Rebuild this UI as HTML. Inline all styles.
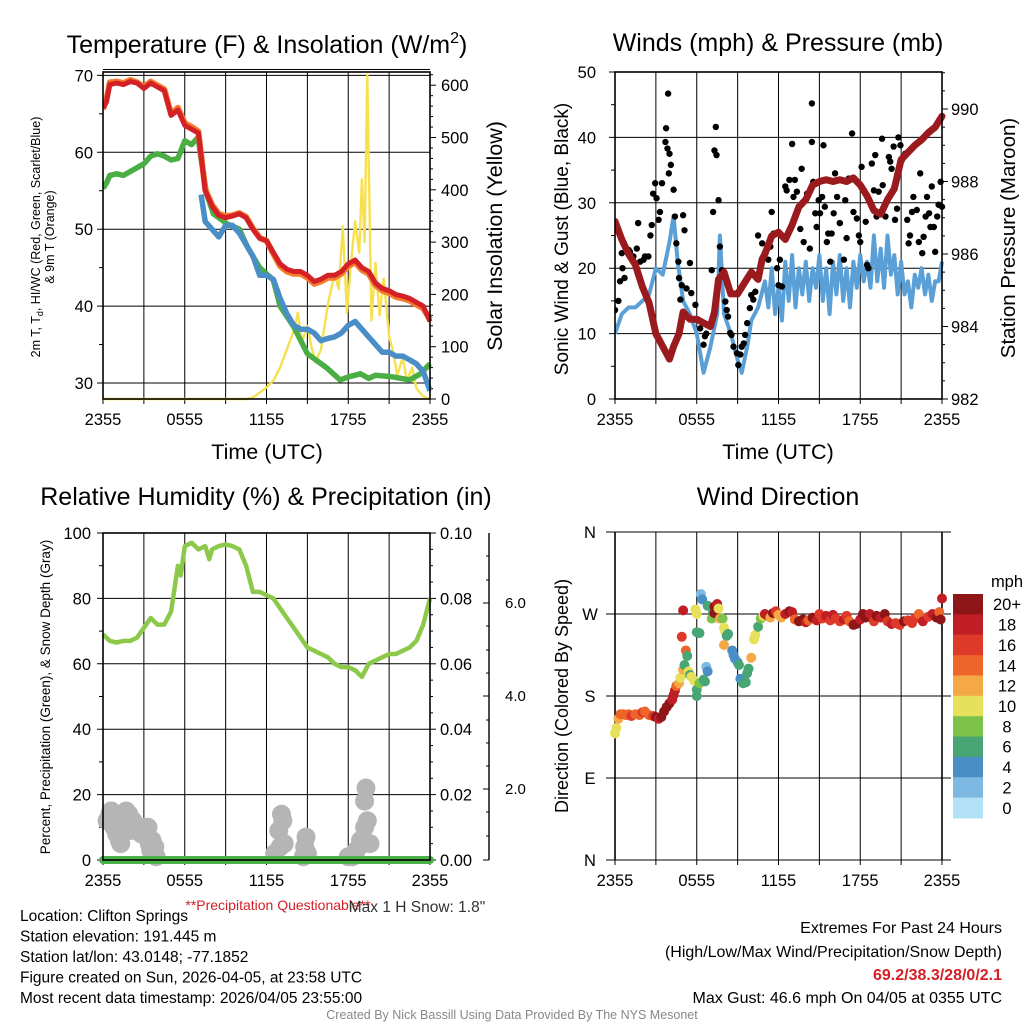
<!DOCTYPE html>
<html><head><meta charset="utf-8"><style>
body{margin:0;background:#fff}
svg{display:block;font-family:"Liberation Sans",sans-serif}
</style></head><body>
<svg id="s" width="1024" height="1024" viewBox="0 0 1024 1024"></svg>
<script>
// ===== Data (hours since 2355 UTC) =====
const tempHours=[0,0.25,0.5,1,1.5,2,2.5,3,3.5,4,4.5,5,5.5,6,6.5,7,7.5,8,8.5,9,9.5,10,10.5,11,11.5,12,12.5,13,13.5,14,14.5,15,15.5,16,16.5,17,17.5,18,18.5,19,19.5,20,20.5,21,21.5,22,22.5,23,23.5,24];
const temp2m=[65.8,66.5,68.8,69,68.8,69.2,69,68.3,69,68.5,68,64.8,65.5,63.5,63,62.5,55,53,51.8,51.5,51.7,52,51.5,50,48.8,48.5,47,45.5,44.8,44.5,44.5,44,43.2,43.5,44,44,44.5,45.5,46,45,44.5,43,42.3,42,41.5,41.3,41,40.5,40,38];
const temp9m=[65.6,66.8,69.1,69.2,69,69.4,69.1,68.5,69.2,68.7,68.2,65,65.8,63.8,63.3,62.7,55.2,53.2,52,51.7,51.8,52.1,51.6,50.1,48.9,48.5,46.8,45.2,44.5,44.2,44.2,43.7,42.9,43.2,43.7,43.7,44.2,45.2,45.7,44.7,44.2,42.7,42,41.7,41.2,41,40.7,40.2,39.7,38.3];
const dewHours=[0,0.25,0.5,1,1.5,2,2.5,3,3.5,4,4.5,5,5.5,6,6.5,7,7.1,7.6,8.1,9.1,10,10.6,11.5,12.5,13,14,15,16.4,17.4,18,18.9,19.5,20,21.3,22.5,23.3,24];
const dewpoint=[55.3,56,57,57.2,57,57.5,58,58.5,59.5,59.8,59.5,59,59.2,61.5,61,62,60.3,54.6,52,50.7,50,47.7,45,43.4,40,37.3,33.8,32,30.4,30.8,31.2,30.6,31,30.8,30.4,31.2,32.5];
const wcHours=[7.2,7.5,8,8.5,9,9.5,10,10.5,11,11.5,12,12.5,13,13.5,14,14.5,15,15.5,16,16.5,17,17.5,18,18.5,19,19.5,20,20.5,21,21.5,22,22.5,23,23.5,24];
const windChill=[54.5,51,50,49,50.5,50.5,49.5,48,46.5,44,44,43.5,41,39,37.5,37,37,36.5,35.5,35.8,36,36.5,37.5,38,37,36,35,34,34,33.5,33.5,33,32.5,31.5,29];
const solarHours=[0,10.5,11,11.5,12,12.5,13,13.5,14,14.3,14.6,15,15.3,15.6,16,16.5,17,17.3,17.6,17.9,18.2,18.5,18.8,19,19.2,19.4,19.7,20,20.3,20.6,21,21.3,21.6,22,22.3,22.7,23,23.5,24];
const solar=[0,0,3,12,22,35,60,95,130,165,110,140,100,70,95,180,240,210,330,165,260,340,280,420,300,620,150,260,160,230,120,90,45,80,35,60,20,5,0];

const windHours=[0,0.5,1,1.5,2,2.5,3,3.5,4,4.3,4.6,5,5.5,6,6.5,7,7.5,7.7,8,8.5,9,9.3,9.7,10,10.5,11,11.25,11.5,11.75,12,12.25,12.5,12.75,13,13.25,13.5,13.75,14,14.25,14.5,14.75,15,15.25,15.5,15.75,16,16.25,16.5,16.75,17,17.25,17.5,17.75,18,18.25,18.5,18.75,19,19.25,19.5,19.75,20,20.25,20.5,20.75,21,21.25,21.5,21.75,22,22.25,22.5,22.75,23,23.25,23.5,23.75,24];
const windSpeed=[10,13,14,14,15,16,20,19,24,28,21,15,13,10,4,8,13,25,13,10,6,4,8,12,14,18,14,20,13,17,12,21,15,22,14,20,16,21,15,20,17,22,15,20,13,21,16,22,15,20,14,21,17,22,18,21,17,25,18,23,17,25,19,22,16,21,16,18,14,19,17,20,16,19,15,18,18,21];
const gustHours=[0,0.25,0.37,0.5,0.55,0.7,1,1.1,1.35,1.6,1.7,1.85,2.1,2.2,2.45,2.6,2.7,2.8,2.95,3.05,3.2,3.3,3.45,3.7,3.75,3.85,3.9,4,4.1,3.95,4.3,4.4,4.5,4.65,4.7,4.8,4.9,5,5.1,5.5,5.25,5.6,5.9,6,6.25,6.5,6.6,6.7,7.1,7.2,7.3,7.4,7.45,7.6,7.7,7.85,8.1,8.2,8.3,8.45,8.55,8.7,8.95,9.05,9.2,9.3,9.45,9.55,9.7,9.9,10,10.15,10.3,10.5,10.8,11,11.25,11.4,11.5,11.65,11.9,12,12.1,12.25,12.5,12.6,12.8,13,13.1,13.2,13.35,13.6,13.7,13.85,14.1,14.3,14.45,14.45,14.55,14.7,14.8,14.95,15.05,15.2,15.3,15.4,15.55,15.65,15.8,15.9,16.05,16.15,16.3,16.5,16.8,16.9,17,17.15,17.4,17.5,17.75,17.9,18,18.1,18.4,18.5,18.6,18.85,19,19.1,19.2,19.35,19.6,19.65,19.85,20.1,20.2,20.3,20.45,20.55,20.7,20.8,20.95,21.05,21.3,21.45,21.55,21.65,21.8,21.9,22.15,22.3,22.4,22.55,22.65,22.8,22.9,23.05,23.15,23.25,23.4,23.5,23.65,23.75,23.9,24];
const gustSpeed=[13.6,15,18,22.3,20,18.5,22.8,22.5,21.8,23,26.9,21,21.3,21.8,21.8,25,26.6,31.4,33,30.7,27.4,28.6,33,39.3,41.4,38.3,46.7,37.5,35.8,34.5,32,27.9,23.8,21,18.5,15.2,17.4,28.1,25.8,20.8,16.9,16.2,14.4,12.1,10.8,8.3,9.6,10,19.7,28.6,38,41.6,37.3,30.4,23.3,19.7,14.9,13.6,12.6,10.1,9.8,8,7,5.2,6.8,8,8.5,9.8,11.6,13.9,15.9,15.2,16.4,25,23.8,22.3,21.3,23.3,28.6,25.3,20,17.4,21.3,17.2,32.5,31.9,33.5,39,30.9,33.5,31.7,26,35.2,24,31.4,23,45.2,39.3,33.2,28.4,26.3,30.4,28.4,30.9,38.8,29.4,24,25.3,21,25.3,28.4,34.5,30.9,26.9,21.3,30.4,24.6,33.7,40.6,28.6,27.6,25,24,35.5,27.1,20.5,20,36,31.9,37.3,27.9,31.7,39.8,32.7,27.9,37,36.3,35.2,38.6,27.4,29.1,40,38.8,36.5,37.5,27.4,23.8,25,28.6,30.9,28.9,24,34.5,22.3,24.8,27.9,30.9,28.4,26.3,32.5,26.3,22.5,27.9,29.7,33.2,29.4];
const presHours=[0,0.5,1,1.5,2,2.5,3,3.5,4,4.3,4.7,5,5.5,6,6.5,7,7.3,7.6,8,8.5,9,9.5,10,10.5,10.8,11,11.5,12,12.5,13,13.5,14,14.5,15,15.5,16,16.5,17,17.5,18,18.5,19,19.5,20,20.5,21,21.5,22,22.5,23,23.5,24];
const pressure=[986.9,986.4,986.0,985.7,985.1,984.65,983.8,983.45,983.1,983.45,983.8,984.4,984.2,984.2,984.1,984.0,984.4,985.3,985.5,984.9,984.9,985.2,985.5,985.3,985.85,986.0,986.5,986.6,986.4,986.8,987.3,987.5,987.9,988.0,988.05,988.0,988.05,988.0,988.1,987.9,987.6,987.2,987.1,987.5,987.8,988.6,988.8,989.0,989.15,989.35,989.5,989.8];

const rhHours=[0,0.5,1,1.5,2,2.5,3,3.5,4,4.5,5,5.5,5.7,6,6.5,7,7.5,7.8,8,8.5,9,9.5,10,10.5,11,11.5,12,12.5,13,13.5,14,14.5,15,15.5,16,16.5,17,17.5,18,18.5,19,19.5,20,20.5,21,21.5,22,22.5,23,23.5,24];
const rh=[69,67,66.5,67,67,68,71,74,72,72,76,90,87,96,97,95,96,92,95,96,96.5,96,95,90,82,82,81,80,77,74,71,68,65,64,63,62,60,59,59,58,56,60,61,62,63,63,64,65,67,72,80];
const precipHours=[0,24];
const precip=[0,0];
const snowHours=[0.3,0.5,0.6,0.8,1.0,1.2,1.3,1.4,1.5,1.7,1.9,2.0,2.2,2.4,2.6,2.8,3.0,3.2,3.3,3.4,3.5,3.6,3.8,3.9,12.6,12.9,13.0,13.1,13.2,13.3,14.7,14.8,14.9,15.0,18.0,18.3,18.6,18.9,19.1,19.2,19.4,19.2,19.3,19.6];
const snowDepth=[12,14,15,10,8,6,5,8,12,15,14,9,12,10,9,8,10,7,10,5,3,6,4,1,2,9,4,14,12,5,1,4,7,2,1,1,3,6,5,10,12,18,22,5];

const dirHours=[0,0.1,0.25,0.4,0.6,0.8,1.0,1.2,1.5,1.8,2.0,2.2,2.5,2.8,3.0,3.2,3.4,3.6,3.8,4.0,4.2,4.3,4.4,4.5,4.7,4.8,5.0,5.1,5.2,5.0,4.9,5.3,5.4,5.5,5.6,5.8,5.9,6.0,6.0,6.2,6.3,6.4,6.0,6.0,6.2,6.5,6.6,6.7,6.8,6.8,7.1,7.2,7.3,7.5,7.3,7.6,7.7,7.9,8.0,8.1,8.2,8.3,8.0,8.6,8.7,8.8,9.0,9.1,9.2,9.4,9.6,9.7,9.8,10.0,10.2,10.3,10.5,10.7,10.9,11.0,11.2,11.4,11.6,11.8,12.0,12.2,12.5,12.8,13.0,13.2,13.5,13.8,14.0,14.2,14.5,14.8,15.0,15.2,15.5,15.8,16.0,16.2,16.5,16.8,17.0,17.2,17.5,17.7,18.0,18.2,18.4,18.7,19.0,19.2,19.5,19.8,20.0,20.3,20.6,20.9,21.2,21.5,21.8,22.0,22.3,22.6,23.0,23.3,23.6,23.8,23.9,24.0];
const dirDeg=[139,145,155,160,160,159,160,158,160,159,162,163,159,158,157,155,157,163,168,172,176,181,186,191,194,200,209,214,230,274,245,224,207,203,201,197,275,270,250,249,292,286,187,180,194,198,196,212,207,279,265,272,278,281,271,276,265,265,255,250,246,248,236,230,225,221,217,214,199,194,195,205,210,222,242,247,256,265,268,270,268,266,271,273,269,266,270,273,272,264,262,264,261,263,266,263,270,265,268,263,269,265,262,264,268,262,258,259,264,270,266,270,262,268,266,270,262,259,260,258,262,263,260,265,270,262,267,270,266,272,264,287];
const dirSpeed=[10,10,12,14,15,14,15,17,14,15,16,15,15,17,20,19,20,20,20,20,19,18,18,14,13,11,12,6,14,18,16,7,10,6,10,10,10,10,6,6,2,4,6,6,8,6,6,2,4,6,8,6,20,18,20,10,12,8,10,10,6,6,13,4,4,4,4,6,4,6,6,6,6,12,10,10,6,8,10,18,18,12,20,16,12,12,18,20,18,14,20,20,18,14,20,18,16,17,18,17,18,17,17,18,16,14,20,20,18,20,20,19,17,20,18,20,17,18,16,17,20,16,17,17,15,18,17,18,20,15,20,19];
const speedBins=["0","2","4","6","8","10","12","14","16","18","20+"];
const speedColors=["#b3e2f7","#7db9e3","#4a8ec6","#47a673","#7cc24b","#e6e05a","#f5a946","#ee6529","#de3a2a","#bf1e24","#8e1518"];

const xTickHours=[0,6,12,18,24];
const xTickLabels=["2355","0555","1155","1755","2355"];

// ===== helpers =====
const NS="http://www.w3.org/2000/svg";
const S=document.getElementById('s');
const TF=16.5;
function el(tag,attrs,parent){const e=document.createElementNS(NS,tag);for(const k in attrs)e.setAttribute(k,attrs[k]);(parent||S).appendChild(e);return e;}
function txt(x,y,s,size,anchor,extra){const t=el('text',Object.assign({x:x,y:y,'font-size':size,'text-anchor':anchor||'middle',fill:'#000'},extra||{}));t.textContent=s;return t;}
function path(xs,ys,fx,fy){return xs.map((h,i)=>(i?'L':'M')+fx(h).toFixed(1)+','+fy(ys[i]).toFixed(1)).join('');}

function panel(L,R,T,B,name){
  const g=el('g',{});
  
  
  return g;
}
function xgrid(g,L,R,T,B,fx){
  for(let h=0;h<=24;h+=3){el('line',{x1:fx(h),x2:fx(h),y1:T,y2:B+5,stroke:'#000','stroke-width':1},g);}
  xTickHours.forEach((h,i)=>{const t=txt(fx(h),B+26,xTickLabels[i],TF,'middle');g.appendChild(t);});
}
function minorLeft(g,L,y){el('line',{x1:L-4,x2:L,y1:y,y2:y,stroke:'#000','stroke-width':1},g);}
function frame(g,L,R,T,B){el('rect',{x:L,y:T,width:R-L,height:B-T,fill:'none',stroke:'#000','stroke-width':1.6},g);}

// ===== Panel 1: Temperature =====
(function(){
const L=103,R=430,T=72,B=399;
const fx=h=>L+h*(R-L)/24, fy=v=>B-(v-27.92)*7.69, fs=w=>B-w*0.523;
const g=panel(L,R,T,B,'temperature-panel');
xgrid(g,L,R,T,B,fx);
[30,40,50,60,70].forEach(v=>{el('line',{x1:L-6,x2:R,y1:fy(v),y2:fy(v),stroke:'#000','stroke-width':1},g);const t=txt(L-10,fy(v)+6,String(v),TF,'end');g.appendChild(t);});
[35,45,55,65].forEach(v=>minorLeft(g,L,fy(v)));
for(let w=0;w<=620;w+=20){const big=w%100===0;el('line',{x1:R,x2:R+(big?6:3),y1:fs(w),y2:fs(w),stroke:'#000','stroke-width':1},g);if(big){const t=txt(R+11,fs(w)+6,String(w),TF,'start');g.appendChild(t);}}
const cl=el('clipPath',{id:'c1'},g);el('rect',{x:L,y:T-2,width:R-L+4,height:B-T+4},cl);
const d=el('g',{'clip-path':'url(#c1)'},g);
const pY=el('path',{d:path(solarHours,solar,fx,fs),fill:'none',stroke:'#f7e04f','stroke-width':2.4,'stroke-linejoin':'round'},d);

const pG=el('path',{d:path(dewHours,dewpoint,fx,fy),fill:'none',stroke:'#4aae45','stroke-width':5.5,'stroke-linejoin':'round'},d);

const pB=el('path',{d:path(wcHours,windChill,fx,fy),fill:'none',stroke:'#4a8ec8','stroke-width':5.5,'stroke-linejoin':'round'},d);

const pO=el('path',{d:path(tempHours,temp9m,fx,fy),fill:'none',stroke:'#f47b2a','stroke-width':6,'stroke-linejoin':'round'},d);

const pR=el('path',{d:path(tempHours,temp2m,fx,fy),fill:'none',stroke:'#d42027','stroke-width':5,'stroke-linejoin':'round'},d);

el('line',{x1:L,x2:R,y1:69.5,y2:69.5,stroke:'#000','stroke-width':1},g);
frame(g,L,R,T,B);
const t1=txt(267,53,'',25,'middle');t1.innerHTML='Temperature (F) &amp; Insolation (W/m<tspan dy="-10" font-size="16">2</tspan><tspan dy="10">)</tspan>';

const xt=txt(267,459,'Time (UTC)',21.5,'middle');
const y1=txt(0,0,'',12.5,'middle',{transform:'translate(40,237) rotate(-90)'});y1.innerHTML='2m T, T<tspan dy="3" font-size="9">d</tspan><tspan dy="-3">, HI/WC (Red, Green, Scarlet/Blue)</tspan>';

const y1b=txt(0,0,'& 9m T (Orange)',12.5,'middle',{transform:'translate(54,237) rotate(-90)'});

const y2=txt(0,0,'Solar Insolation (Yellow)',21.5,'middle',{transform:'translate(502,236) rotate(-90)'});

})();

// ===== Panel 2: Winds =====
(function(){
const L=615,R=942,T=72,B=399;
const fx=h=>L+h*(R-L)/24, fy=v=>B-v*6.54, fp=p=>B-(p-982)*36.25;
const g=panel(L,R,T,B,'winds-panel');
xgrid(g,L,R,T,B,fx);
[0,10,20,30,40,50].forEach(v=>{el('line',{x1:L-6,x2:R,y1:fy(v),y2:fy(v),stroke:'#000','stroke-width':1},g);const t=txt(L-19,fy(v)+6,String(v),TF,'end');g.appendChild(t);});
[5,15,25,35,45].forEach(v=>minorLeft(g,L,fy(v)));
for(let p=982;p<=991;p+=0.5){const big=Math.abs(p%2)<0.01;el('line',{x1:R,x2:R+(big?6:3),y1:fp(p),y2:fp(p),stroke:'#000','stroke-width':1},g);if(big){const t=txt(R+9,fp(p)+6,String(p),TF,'start');g.appendChild(t);}}
const cl=el('clipPath',{id:'c2'},g);el('rect',{x:L,y:T,width:R-L+5,height:B-T},cl);
const d=el('g',{'clip-path':'url(#c2)'},g);
const pw=el('path',{d:path(windHours,windSpeed,fx,fy),fill:'none',stroke:'#5a9fd6','stroke-width':4,'stroke-linejoin':'round'},d);

gustHours.forEach((h,i)=>{const c=el('circle',{cx:fx(h),cy:fy(gustSpeed[i]),r:3.2,fill:'#000'},d);

});
const pp=el('path',{d:path(presHours,pressure,fx,fp),fill:'none',stroke:'#9a1a1e','stroke-width':7,'stroke-linejoin':'round','stroke-linecap':'round'},d);

frame(g,L,R,T,B);
const t=txt(778,51,'Winds (mph) & Pressure (mb)',25,'middle');
const xt=txt(778,459,'Time (UTC)',21.5,'middle');
const y1=txt(0,0,'Sonic Wind & Gust (Blue, Black)',19,'middle',{transform:'translate(568,239) rotate(-90)'});
const y2=txt(0,0,'Station Pressure (Maroon)',20.5,'middle',{transform:'translate(1015,238) rotate(-90)'});
})();

// ===== Panel 3: RH =====
(function(){
const L=103,R=430,T=533,B=860;
const fx=h=>L+h*(R-L)/24, fy=v=>B-v*3.27, fpr=p=>B-p*3270;
const g=panel(L,R,T,B,'humidity-panel');
xgrid(g,L,R,T,B,fx);
[0,20,40,60,80,100].forEach(v=>{el('line',{x1:L-6,x2:R,y1:fy(v),y2:fy(v),stroke:'#000','stroke-width':1},g);const t=txt(L-12,fy(v)+6,String(v),TF,'end');g.appendChild(t);});
[10,30,50,70,90].forEach(v=>minorLeft(g,L,fy(v)));
for(let k=0;k<=20;k++){const p=k*0.005,big=k%4===0;el('line',{x1:R,x2:R+(big?6:3),y1:fpr(p),y2:fpr(p),stroke:'#000','stroke-width':1},g);if(big){const t=txt(R+10,fpr(p)+6,p.toFixed(2),TF,'start');g.appendChild(t);}}
el('line',{x1:489,x2:489,y1:533,y2:860,stroke:'#000','stroke-width':1.4},g);
[[603,'6.0'],[696,'4.0'],[789,'2.0']].forEach(a=>{el('line',{x1:483,x2:489,y1:a[0],y2:a[0],stroke:'#000'},g);const t=txt(505,a[0]+5,a[1],15,'start');g.appendChild(t);});
[556,580,626,650,673,720,743,766,812,836].forEach(y=>el('line',{x1:486,x2:489,y1:y,y2:y,stroke:'#000'},g));
el('line',{x1:483,x2:489,y1:860,y2:860,stroke:'#000'},g);
const cl=el('clipPath',{id:'c3'},g);el('rect',{x:L-10,y:T,width:R-L+20,height:B-T+10},cl);
const d=el('g',{'clip-path':'url(#c3)'},g);
snowHours.forEach((h,i)=>{const c=el('circle',{cx:fx(h),cy:fy(snowDepth[i]),r:9.5,fill:'#b5b5b5'},d);

});
const pr=el('path',{d:path(rhHours,rh,fx,fy),fill:'none',stroke:'#8cc94a','stroke-width':4.5,'stroke-linejoin':'round'},d);

const pp=el('path',{d:path(precipHours,precip,fx,fpr),fill:'none',stroke:'#4cb04a','stroke-width':8,'stroke-linecap':'round'},d);

frame(g,L,R,T,B);
const t=txt(266,505,'Relative Humidity (%) & Precipitation (in)',25,'middle');
const y1=txt(0,0,'Percent, Precipitation (Green), & Snow Depth (Gray)',13.5,'middle',{transform:'translate(50,697) rotate(-90)'});
const q=txt(278,910,'**Precipitation Questionable**',14,'middle',{fill:'#d42027'});
const m=txt(417,912,'Max 1 H Snow: 1.8"',15.5,'middle',{fill:'#333'});
})();

// ===== Panel 4: Wind direction =====
(function(){
const L=615,R=942,T=532,B=860;
const fx=h=>L+h*(R-L)/24, fy=v=>B-v*(B-T)/360;
const g=panel(L,R,T,B,'wind-direction-panel');
xgrid(g,L,R,T,B,fx);
[[0,'N'],[90,'E'],[180,'S'],[270,'W'],[360,'N']].forEach(a=>{el('line',{x1:606,x2:951,y1:fy(a[0]),y2:fy(a[0]),stroke:'#000','stroke-width':1},g);const t=txt(590,fy(a[0])+6,a[1],TF,'middle');g.appendChild(t);});
el('line',{x1:L,x2:L,y1:T,y2:B,stroke:'#000','stroke-width':1.6},g);
el('line',{x1:R,x2:R,y1:T,y2:B,stroke:'#000','stroke-width':1.6},g);
function col(s){let i=Math.floor(s/2);if(i>10)i=10;if(i<0)i=0;return speedColors[i];}
dirHours.forEach((h,i)=>{const c=el('circle',{cx:fx(h),cy:fy(dirDeg[i]),r:5,fill:col(dirSpeed[i])},g);

});
const cb=el('g',{},g);
const top=594,hgt=(818-594)/speedBins.length;
speedBins.forEach((lab,k)=>{const idx=speedBins.length-1-k;el('rect',{x:953,y:top+k*hgt,width:30,height:hgt+0.5,fill:speedColors[idx]},cb);const t=txt(1007,top+k*hgt+hgt/2+6,speedBins[idx],TF,'middle');cb.appendChild(t);});
const u=txt(1007,587,'mph',TF,'middle');
const t=txt(778,505,'Wind Direction',25,'middle');
const y1=txt(0,0,'Direction (Colored By Speed)',18,'middle',{transform:'translate(568,696) rotate(-90)'});
})();

// ===== Footer text =====
const info=["Location: Clifton Springs","Station elevation: 191.445 m","Station lat/lon: 43.0148; -77.1852","Figure created on Sun, 2026-04-05, at 23:58 UTC","Most recent data timestamp: 2026/04/05 23:55:00"];
const infoNames=['location-label','elevation-label','latlon-label','created-label','timestamp-label'];
info.forEach((s,i)=>{const t=txt(20,921+i*20.5,s,15.5,'start');});
const e1=txt(1002,933,'Extremes For Past 24 Hours',16,'end');
const e2=txt(1002,957,'(High/Low/Max Wind/Precipitation/Snow Depth)',16,'end');
const e3=txt(1002,980,'69.2/38.3/28/0/2.1',16,'end',{fill:'#d42027','font-weight':'bold'});
const e4=txt(1002,1003,'Max Gust: 46.6 mph On 04/05 at 0355 UTC',16,'end');
const cr=txt(512,1019,'Created By Nick Bassill Using Data Provided By The NYS Mesonet',12.5,'middle',{fill:'#888'});
</script>
</body></html>
